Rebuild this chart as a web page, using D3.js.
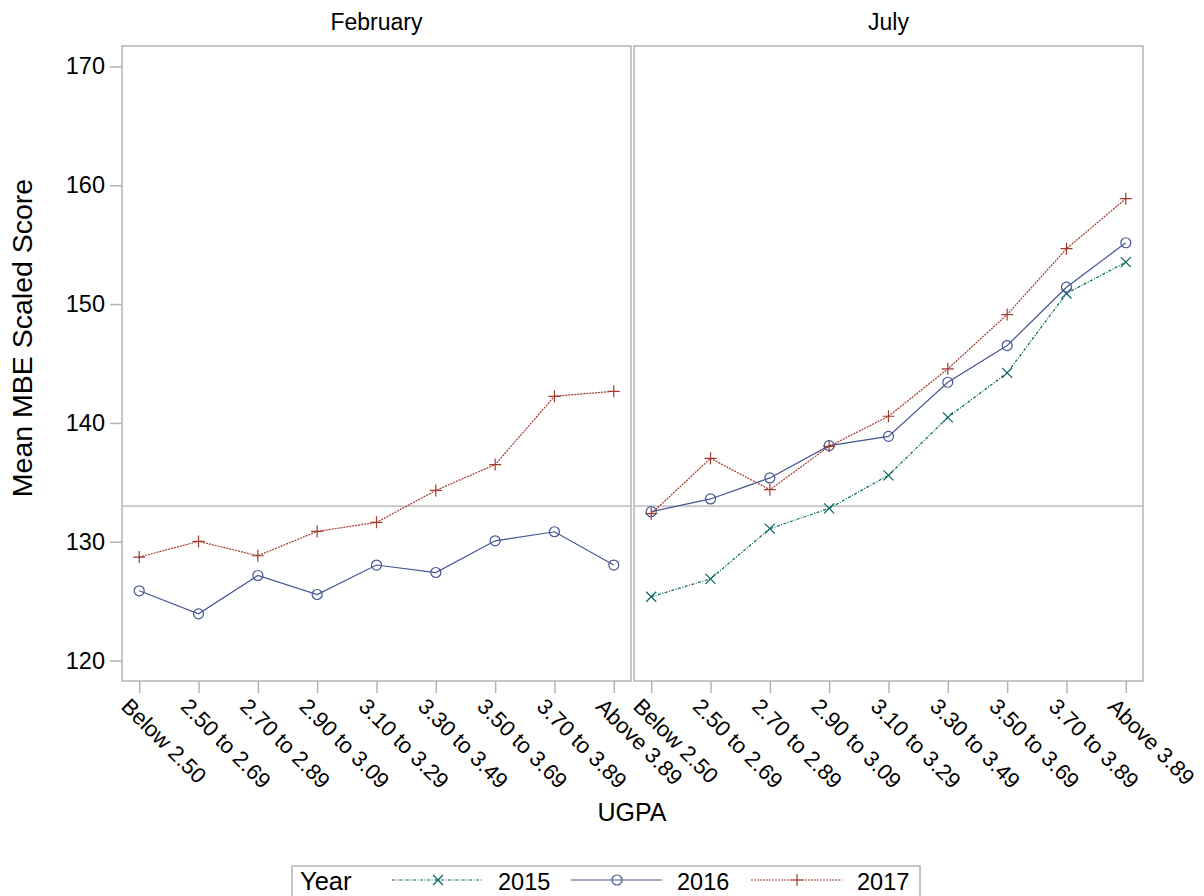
<!DOCTYPE html>
<html>
<head>
<meta charset="utf-8">
<script src="https://cdn.jsdelivr.net/npm/d3@7"></script>
<style>
  html, body { margin: 0; padding: 0; background: #fff; }
  svg { display: block; font-family: "Liberation Sans", Arial, sans-serif; }
</style>
</head>
<body>
<svg id="chart" width="1204" height="896"></svg>
<script>
// ---------- data ----------
const categories = ["Below 2.50","2.50 to 2.69","2.70 to 2.89","2.90 to 3.09","3.10 to 3.29","3.30 to 3.49","3.50 to 3.69","3.70 to 3.89","Above 3.89"];
const panels = ["February","July"];
const years = ["2015","2016","2017"];
const yTicks = [120,130,140,150,160,170];
const refValue = 133;

const feb2015 = null; // no February 2015 data
const feb2016 = [125.87,123.93,127.16,125.56,128.04,127.41,130.08,130.84,128.04];
const feb2017 = [128.71,130.03,128.82,130.87,131.63,134.32,136.49,142.24,142.66];
const jul2015 = [125.37,126.88,131.10,132.81,135.59,140.47,144.21,150.89,153.53];
const jul2016 = [132.53,133.60,135.37,138.09,138.87,143.42,146.51,151.42,155.16];
const jul2017 = [132.36,137.02,134.38,138.03,140.56,144.55,149.12,154.66,158.87];

const seriesByPanel = {
  February: {"2015": feb2015, "2016": feb2016, "2017": feb2017},
  July:     {"2015": jul2015, "2016": jul2016, "2017": jul2017}
};

// ---------- styles ----------
const colors = {"2015": "#01665E", "2016": "#445694", "2017": "#A23A2E"};
const dashes = {"2015": "3,1.5,1,1.5", "2016": null, "2017": "2,1"};
const frameColor = "#b4b4b4";

const svg = d3.select("#chart");
const plotTop = 46, plotBottom = 681;
const panelX = [[122, 631], [634, 1143]];

const y = d3.scaleLinear().domain([118.28, 171.72]).range([plotBottom, plotTop]);

function drawMarker(g, year, cx, cy) {
  const c = colors[year];
  if (year === "2015") {
    const s = 5;
    g.append("path").attr("d", `M${cx-s},${cy-s}L${cx+s},${cy+s}M${cx-s},${cy+s}L${cx+s},${cy-s}`)
      .attr("stroke", c).attr("stroke-width", 1.2).attr("fill", "none");
  } else if (year === "2016") {
    g.append("circle").attr("cx", cx).attr("cy", cy).attr("r", 5)
      .attr("stroke", c).attr("stroke-width", 1.2).attr("fill", "none");
  } else {
    const s = 6;
    g.append("path").attr("d", `M${cx-s},${cy}L${cx+s},${cy}M${cx},${cy-s}L${cx},${cy+s}`)
      .attr("stroke", c).attr("stroke-width", 1.2).attr("fill", "none");
  }
}

panels.forEach((p, i) => {
  const [x0, x1] = panelX[i];
  const x = d3.scalePoint().domain(categories).range([x0, x1]).padding(0.29);
  const g = svg.append("g");

  // reference line
  g.append("line").attr("x1", x0).attr("x2", x1)
    .attr("y1", y(refValue)).attr("y2", y(refValue))
    .attr("stroke", "#c4c4c4").attr("stroke-width", 1.6);

  // frame
  g.append("rect").attr("x", x0).attr("y", plotTop).attr("width", x1 - x0).attr("height", plotBottom - plotTop)
    .attr("fill", "none").attr("stroke", frameColor).attr("stroke-width", 1.5);

  // panel title
  svg.append("text").attr("x", (x0 + x1) / 2).attr("y", 30)
    .attr("text-anchor", "middle").attr("font-size", 23).attr("fill", "#000").text(p);

  // x axis
  const xa = svg.append("g").attr("transform", `translate(0,${plotBottom})`)
    .call(d3.axisBottom(x).tickSize(12).tickSizeOuter(0).tickFormat(""));
  xa.select(".domain").remove();
  xa.selectAll(".tick line").attr("stroke", frameColor).attr("stroke-width", 1.5);
  categories.forEach(cat => {
    svg.append("text")
      .attr("transform", `translate(${x(cat)},${plotBottom + 12}) rotate(45)`)
      .attr("x", -3).attr("y", 24)
      .attr("font-size", 22).attr("fill", "#000").text(cat);
  });

  // series
  years.forEach(yr => {
    const vals = seriesByPanel[p][yr];
    if (!vals) return;
    const pts = categories.map((c, k) => [x(c), y(vals[k])]);
    g.append("path").attr("d", d3.line()(pts))
      .attr("fill", "none").attr("stroke", colors[yr]).attr("stroke-width", 1.2)
      .attr("stroke-dasharray", dashes[yr]);
    pts.forEach(pt => drawMarker(g, yr, pt[0], pt[1]));
  });
});

// y axis (left)
const ya = svg.append("g").attr("transform", `translate(${panelX[0][0]},0)`)
  .call(d3.axisLeft(y).tickValues(yTicks).tickSize(12).tickSizeOuter(0).tickPadding(5));
ya.select(".domain").remove();
ya.selectAll(".tick line").attr("stroke", frameColor).attr("stroke-width", 1.5);
ya.selectAll(".tick text").attr("font-size", 23.5).attr("fill", "#000").attr("font-family", "Liberation Sans, Arial, sans-serif");

// axis titles
svg.append("text").attr("transform", `translate(32,338) rotate(-90)`)
  .attr("text-anchor", "middle").attr("font-size", 28.5).attr("fill", "#000").text("Mean MBE Scaled Score");
svg.append("text").attr("x", 632).attr("y", 821)
  .attr("text-anchor", "middle").attr("font-size", 25).attr("fill", "#000").text("UGPA");

// legend
const lg = svg.append("g");
lg.append("rect").attr("x", 292).attr("y", 866).attr("width", 628).attr("height", 40)
  .attr("fill", "none").attr("stroke", frameColor).attr("stroke-width", 1.5);
lg.append("text").attr("x", 300).attr("y", 890).attr("font-size", 25.5).attr("fill", "#000").text("Year");
const legX = d3.scaleOrdinal().domain(years).range([392, 571, 751]);
years.forEach(yr => {
  const lx = legX(yr);
  lg.append("line").attr("x1", lx).attr("x2", lx + 91).attr("y1", 880).attr("y2", 880)
    .attr("stroke", colors[yr]).attr("stroke-width", 1.2).attr("stroke-dasharray", dashes[yr]);
  drawMarker(lg, yr, lx + 46, 880);
  lg.append("text").attr("x", lx + 106).attr("y", 890).attr("font-size", 23.5).attr("fill", "#000").text(yr);
});
</script>
</body>
</html>
